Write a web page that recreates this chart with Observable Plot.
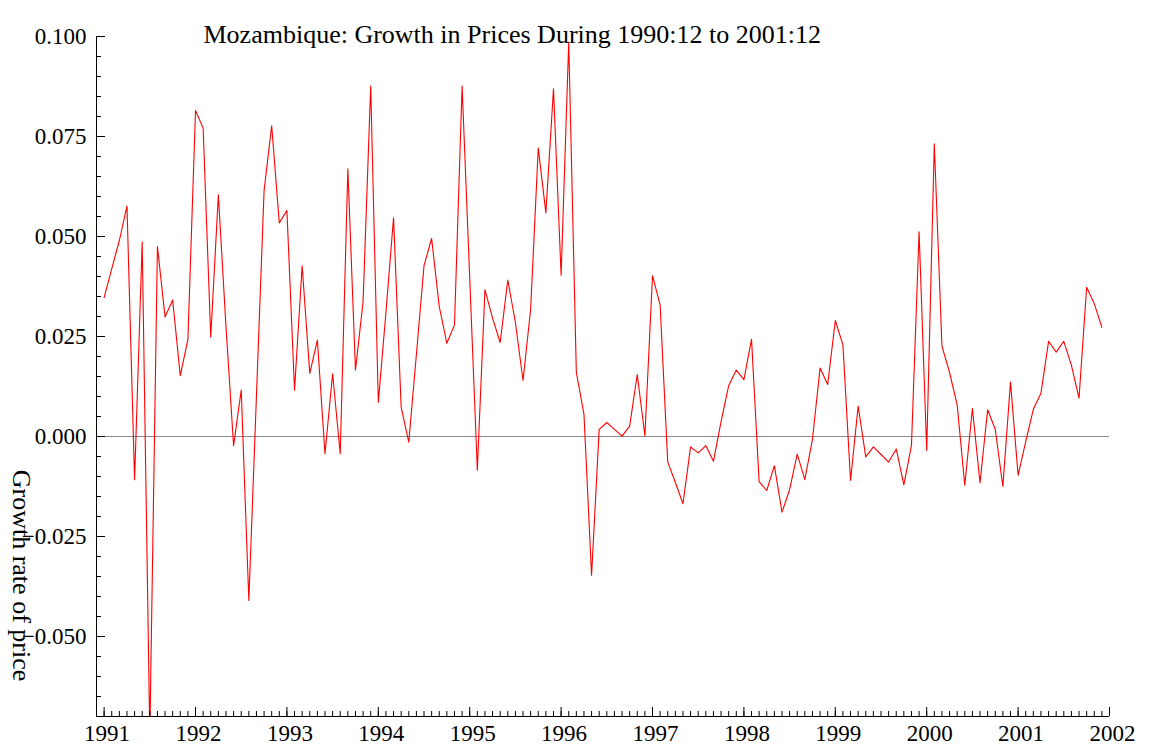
<!DOCTYPE html>
<html>
<head>
<meta charset="utf-8">
<script src="https://cdn.jsdelivr.net/npm/d3@7"></script>
<script src="https://cdn.jsdelivr.net/npm/@observablehq/plot@0.6"></script>
<style>
  html, body { margin: 0; padding: 0; background: #fff; }
  #chart { width: 1153px; height: 749px; }
</style>
</head>
<body>
<div id="chart"></div>
<script>
// ---- data ----
const title = "Mozambique: Growth in Prices During 1990:12 to 2001:12";
const yLabel = "Growth rate of price";
const startYear = 1991; // first observation: 1991:01, monthly
const growth = [
  // 1991
  0.0347, 0.0419, 0.0490, 0.0576, -0.0108, 0.0486, -0.0750, 0.0475, 0.0299, 0.0341, 0.0152, 0.0243,
  // 1992
  0.0815, 0.0771, 0.0248, 0.0604, 0.0275, -0.0023, 0.0116, -0.0410, 0.0101, 0.0614, 0.0777, 0.0534,
  // 1993
  0.0565, 0.0116, 0.0427, 0.0158, 0.0241, -0.0043, 0.0157, -0.0043, 0.0669, 0.0166, 0.0337, 0.0876,
  // 1994
  0.0085, 0.0310, 0.0547, 0.0073, -0.0014, 0.0205, 0.0427, 0.0495, 0.0325, 0.0233, 0.0279, 0.0876,
  // 1995
  0.0397, -0.0084, 0.0367, 0.0296, 0.0235, 0.0391, 0.0285, 0.0140, 0.0318, 0.0721, 0.0559, 0.0869,
  // 1996
  0.0403, 0.0986, 0.0160, 0.0056, -0.0347, 0.0018, 0.0035, 0.0018, 0.0001, 0.0026, 0.0155, 0.0002,
  // 1997
  0.0402, 0.0329, -0.0064, -0.0115, -0.0168, -0.0026, -0.0041, -0.0023, -0.0062, 0.0037, 0.0127, 0.0166,
  // 1998
  0.0142, 0.0243, -0.0113, -0.0135, -0.0073, -0.0189, -0.0133, -0.0044, -0.0108, -0.0007, 0.0171, 0.0130,
  // 1999
  0.0290, 0.0229, -0.0110, 0.0076, -0.0051, -0.0026, -0.0045, -0.0064, -0.0031, -0.0121, -0.0022, 0.0512,
  // 2000
  -0.0035, 0.0732, 0.0226, 0.0160, 0.0079, -0.0122, 0.0070, -0.0116, 0.0067, 0.0018, -0.0125, 0.0136,
  // 2001
  -0.0097, -0.0013, 0.0068, 0.0108, 0.0238, 0.0211, 0.0238, 0.0178, 0.0096, 0.0373, 0.0332, 0.0273
];
const xDomain = [1990 + 11 / 12, 2002];   // 1990:12 .. 2002:01
const yDomain = [-0.07, 0.1];
const yearTicks = [1991, 1992, 1993, 1994, 1995, 1996, 1997, 1998, 1999, 2000, 2001, 2002];
const yMajorTicks = [-0.05, -0.025, 0, 0.025, 0.05, 0.075, 0.1];

// derived tables
const series = growth.map((v, i) => ({t: startYear + i / 12, v}));
const monthTicks = d3.range(0, 134).map(k => xDomain[0] + k / 12).filter(t => t <= xDomain[1] + 1e-9);
const yMinorTicks = d3.range(-13, 21).map(k => k * 0.005);

const W = 1153, H = 749;
const mT = 36, mB = 33, mL = 96, mR = 44;
const frameW = W - mL - mR, frameH = H - mT - mB;
const font = "'Liberation Serif', 'Times New Roman', 'DejaVu Serif', serif";
const fmt = d => (d < 0 ? "\u2212" : "") + Math.abs(d).toFixed(3);

const chart = Plot.plot({
  width: W,
  height: H,
  marginTop: mT,
  marginBottom: mB,
  marginLeft: mL,
  marginRight: mR,
  x: {domain: xDomain, axis: null},
  y: {domain: yDomain, axis: null},
  style: {fontFamily: font, background: "#fff", color: "#000"},
  marks: [
    // zero line
    Plot.ruleY([0], {stroke: "#8a8a8a", strokeWidth: 1}),
    // data
    Plot.line(series, {x: "t", y: "v", stroke: "#ff0000", strokeWidth: 1.1, clip: true}),
    // x minor & major ticks (inside)
    Plot.ruleX(monthTicks, {x: d => d, stroke: "#000", strokeWidth: 1, insetTop: frameH - 5}),
    Plot.ruleX(yearTicks, {x: d => d, stroke: "#000", strokeWidth: 1, insetTop: frameH - 9}),
    // y minor & major ticks (inside)
    Plot.ruleY(yMinorTicks, {y: d => d, stroke: "#000", strokeWidth: 1, insetRight: frameW - 5}),
    Plot.ruleY(yMajorTicks, {y: d => d, stroke: "#000", strokeWidth: 1, insetRight: frameW - 9}),
    // axis lines
    Plot.ruleX([xDomain[0]], {stroke: "#000", strokeWidth: 1}),
    Plot.ruleY([yDomain[0]], {stroke: "#000", strokeWidth: 1}),
    // tick labels
    Plot.text(yearTicks, {x: d => d, frameAnchor: "bottom", text: d => String(d),
      lineAnchor: "top", dy: 8, dx: 3, fontSize: 23, fill: "#000"}),
    Plot.text(yMajorTicks, {y: d => d, frameAnchor: "left", text: fmt,
      textAnchor: "end", dx: -10, fontSize: 23, fill: "#000"}),
    // title
    Plot.text([title], {frameAnchor: "top-left", text: d => d, textAnchor: "start",
      dx: 107, dy: -12, fontSize: 26, fill: "#000"}),
    // y label
    Plot.text([yLabel], {frameAnchor: "left", text: d => d, rotate: 90,
      textAnchor: "middle", lineAnchor: "middle",
      dx: -75, dy: 199, fontSize: 26, fill: "#000"})
  ]
});
document.getElementById("chart").appendChild(chart);
</script>
</body>
</html>
